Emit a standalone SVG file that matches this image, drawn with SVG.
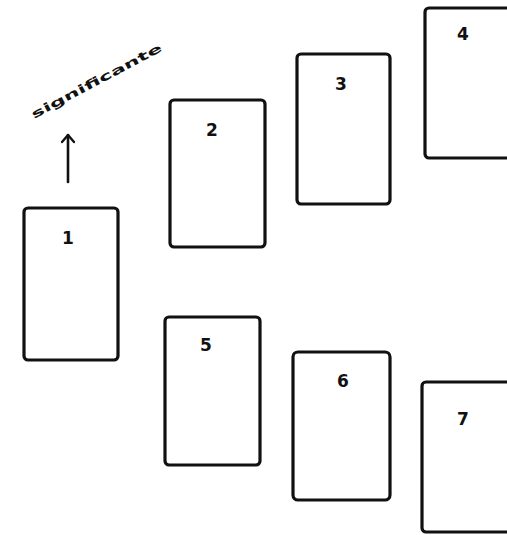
<svg xmlns="http://www.w3.org/2000/svg" width="507" height="535" viewBox="0 0 507 535">
<defs>
<style>
.card{fill:#fff;stroke:#111;stroke-width:3.2;stroke-linejoin:round}
.num{font-family:"DejaVu Sans",sans-serif;font-weight:bold;font-size:17px;fill:#111;text-anchor:middle}
.lbl{font-family:"DejaVu Sans",sans-serif;font-weight:bold;font-size:12px;fill:#111}
.conn{stroke:#111;stroke-width:2.6;fill:none;stroke-linecap:round}
</style>
<marker id="ah" viewBox="0 0 10 14" refX="9" refY="7" markerWidth="10" markerHeight="14" orient="auto" markerUnits="userSpaceOnUse">
<path d="M2,1 L9,7 L2,13" fill="none" stroke="#111" stroke-width="2.4" stroke-linecap="round" stroke-linejoin="round"/>
</marker>
</defs>
<rect width="507" height="535" fill="#fff"/>
<g id="connectors">
<line class="conn" x1="68" y1="182" x2="68" y2="135" marker-end="url(#ah)"/>
</g>
<g id="label-significante">
<text class="lbl" transform="translate(34,119) rotate(-28)" textLength="146" lengthAdjust="spacingAndGlyphs">significante</text>
</g>
<g id="card1"><rect class="card" x="24" y="208" width="94" height="152" rx="4"/><text class="num" x="68" y="244">1</text></g>
<g id="card2"><rect class="card" x="170" y="100" width="95" height="147" rx="4"/><text class="num" x="212" y="136">2</text></g>
<g id="card3"><rect class="card" x="297" y="54" width="93" height="150" rx="4"/><text class="num" x="341" y="90">3</text></g>
<g id="card4"><rect class="card" x="425" y="8" width="100" height="150" rx="4"/><text class="num" x="463" y="40">4</text></g>
<g id="card5"><rect class="card" x="165" y="317" width="95" height="148" rx="4"/><text class="num" x="206" y="351">5</text></g>
<g id="card6"><rect class="card" x="293" y="352" width="97" height="148" rx="5"/><text class="num" x="343" y="387">6</text></g>
<g id="card7"><rect class="card" x="422" y="382" width="100" height="150" rx="4"/><text class="num" x="463" y="425">7</text></g>
</svg>
